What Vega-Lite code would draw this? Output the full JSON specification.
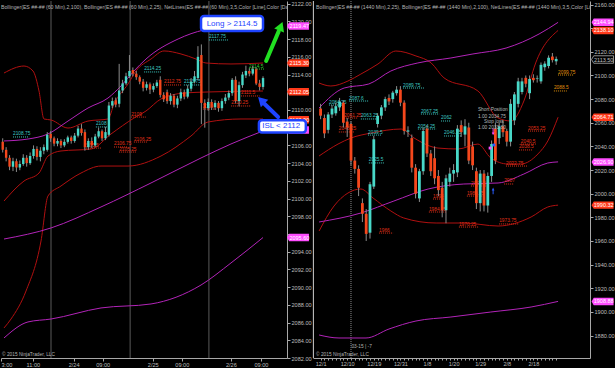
{
"$schema":"https://vega.github.io/schema/vega-lite/v6.json",
"background":"#000000",
"padding":0,
"autosize":{"type":"pad"},
"spacing":26,
"bounds":"flush",
"resolve":{"scale":{"x":"independent","y":"independent"}},
"config":{"view":{"stroke":null},"scale":{"continuousPadding":0},
"axis":{"labelFont":"Liberation Sans","labelFontSize":5.6,"labelColor":"#bdbdbd","domainColor":"#a8a8a8","tickColor":"#a8a8a8","grid":false,"tickSize":3,"labelPadding":1,"labelOverlap":false,"tickCount":200},
"text":{"font":"Liberation Sans"}},
"datasets":{
"lc":[
{"i":0,"o":2106.4,"h":2106.8,"l":2105.2,"c":2105.5},{"i":1,"o":2105.5,"h":2105.8,"l":2104.2,"c":2104.6},{"i":2,"o":2104.6,"h":2104.9,"l":2103.2,"c":2103.6},{"i":3,"o":2103.6,"h":2104.6,"l":2103.1,"c":2104.2},{"i":4,"o":2104.2,"h":2104.5,"l":2103.0,"c":2103.5},{"i":5,"o":2103.5,"h":2104.3,"l":2103.2,"c":2103.9},{"i":6,"o":2103.9,"h":2105.0,"l":2103.7,"c":2104.6},{"i":7,"o":2104.6,"h":2104.9,"l":2103.6,"c":2104.0},{"i":8,"o":2104.0,"h":2105.2,"l":2103.8,"c":2104.8},{"i":9,"o":2104.8,"h":2106.0,"l":2104.5,"c":2105.6},
{"i":10,"o":2105.6,"h":2105.9,"l":2104.3,"c":2104.7},{"i":11,"o":2104.7,"h":2105.8,"l":2104.2,"c":2105.4},{"i":12,"o":2105.4,"h":2106.1,"l":2105.0,"c":2105.8},{"i":13,"o":2105.5,"h":2107.5,"l":2105.3,"c":2107.2},{"i":14,"o":2107.3,"h":2107.6,"l":2106.4,"c":2106.8},{"i":15,"o":2106.8,"h":2107.0,"l":2105.9,"c":2106.2},{"i":16,"o":2106.2,"h":2106.8,"l":2105.9,"c":2106.5},{"i":17,"o":2106.5,"h":2106.7,"l":2105.7,"c":2106.0},{"i":18,"o":2106.0,"h":2106.7,"l":2105.8,"c":2106.4},{"i":19,"o":2106.4,"h":2107.1,"l":2106.2,"c":2106.9},
{"i":20,"o":2106.9,"h":2107.1,"l":2106.2,"c":2106.5},{"i":21,"o":2106.5,"h":2107.4,"l":2106.3,"c":2107.1},{"i":22,"o":2107.1,"h":2108.2,"l":2106.9,"c":2107.9},{"i":23,"o":2107.9,"h":2108.4,"l":2107.1,"c":2107.4},{"i":24,"o":2107.5,"h":2107.8,"l":2105.4,"c":2105.8},{"i":25,"o":2105.8,"h":2106.8,"l":2105.5,"c":2106.5},{"i":26,"o":2106.5,"h":2106.9,"l":2105.7,"c":2106.0},{"i":27,"o":2106.0,"h":2107.3,"l":2105.8,"c":2107.0},{"i":28,"o":2107.0,"h":2108.0,"l":2106.8,"c":2107.6},{"i":29,"o":2107.6,"h":2107.8,"l":2106.5,"c":2106.8},
{"i":30,"o":2106.8,"h":2108.1,"l":2106.6,"c":2107.5},{"i":31,"o":2107.2,"h":2110.9,"l":2107.0,"c":2110.5},{"i":32,"o":2110.5,"h":2111.4,"l":2110.2,"c":2111.0},{"i":33,"o":2111.1,"h":2111.4,"l":2110.3,"c":2110.6},{"i":34,"o":2110.7,"h":2115.2,"l":2110.3,"c":2112.2},{"i":35,"o":2112.2,"h":2113.4,"l":2111.9,"c":2113.0},{"i":36,"o":2113.0,"h":2114.2,"l":2112.8,"c":2113.8},{"i":37,"o":2113.8,"h":2116.2,"l":2113.6,"c":2114.4},{"i":38,"o":2114.5,"h":2114.8,"l":2113.8,"c":2114.1},{"i":39,"o":2114.1,"h":2114.4,"l":2113.4,"c":2113.7},
{"i":40,"o":2113.7,"h":2113.9,"l":2112.9,"c":2113.2},{"i":41,"o":2113.2,"h":2113.5,"l":2112.1,"c":2112.5},{"i":42,"o":2112.5,"h":2113.2,"l":2112.2,"c":2112.9},{"i":43,"o":2112.9,"h":2113.1,"l":2111.8,"c":2112.3},{"i":44,"o":2112.3,"h":2113.0,"l":2112.0,"c":2112.7},{"i":45,"o":2112.7,"h":2113.4,"l":2112.5,"c":2113.1},{"i":46,"o":2113.4,"h":2113.8,"l":2111.4,"c":2111.7},{"i":47,"o":2111.7,"h":2112.0,"l":2110.9,"c":2111.2},{"i":48,"o":2112.0,"h":2112.3,"l":2110.7,"c":2111.0},{"i":49,"o":2111.0,"h":2111.9,"l":2110.6,"c":2111.6},
{"i":50,"o":2111.6,"h":2111.8,"l":2110.3,"c":2110.6},{"i":51,"o":2110.6,"h":2111.6,"l":2110.2,"c":2111.3},{"i":52,"o":2111.3,"h":2112.4,"l":2111.0,"c":2112.0},{"i":53,"o":2112.0,"h":2112.3,"l":2111.2,"c":2111.5},{"i":54,"o":2111.5,"h":2112.8,"l":2111.3,"c":2112.4},{"i":55,"o":2112.4,"h":2113.6,"l":2112.1,"c":2113.2},{"i":56,"o":2113.2,"h":2114.4,"l":2113.0,"c":2113.8},{"i":57,"o":2113.6,"h":2117.2,"l":2113.4,"c":2116.0},{"i":58,"o":2116.2,"h":2117.4,"l":2108.4,"c":2110.8},{"i":59,"o":2110.8,"h":2111.2,"l":2108.0,"c":2110.2},
{"i":60,"o":2110.2,"h":2111.3,"l":2109.9,"c":2110.9},{"i":61,"o":2110.9,"h":2111.2,"l":2110.0,"c":2110.3},{"i":62,"o":2110.3,"h":2111.1,"l":2110.0,"c":2110.8},{"i":63,"o":2110.8,"h":2111.0,"l":2109.8,"c":2110.2},{"i":64,"o":2110.2,"h":2111.3,"l":2109.9,"c":2111.0},{"i":65,"o":2111.0,"h":2111.8,"l":2110.7,"c":2111.4},{"i":66,"o":2111.4,"h":2112.2,"l":2111.1,"c":2111.9},{"i":67,"o":2111.9,"h":2113.6,"l":2111.6,"c":2113.4},{"i":68,"o":2113.4,"h":2113.8,"l":2110.8,"c":2111.0},{"i":69,"o":2111.0,"h":2113.2,"l":2110.4,"c":2112.8},
{"i":70,"o":2112.8,"h":2114.3,"l":2112.5,"c":2114.0},{"i":71,"o":2113.9,"h":2115.0,"l":2113.6,"c":2114.4},{"i":72,"o":2114.4,"h":2114.7,"l":2113.8,"c":2114.1},{"i":73,"o":2114.1,"h":2115.0,"l":2113.9,"c":2114.6},{"i":74,"o":2114.6,"h":2114.8,"l":2112.8,"c":2113.0},{"i":75,"o":2113.0,"h":2113.4,"l":2112.2,"c":2112.6},{"i":76,"o":2112.6,"h":2113.8,"l":2112.3,"c":2113.6}
],
"ll":[
{"s":"R1","i":0.38,"p":2114.17},{"s":"R1","i":6.22,"p":2114.96},{"s":"R1","i":8.84,"p":2114.4},{"s":"R1","i":10.6,"p":2112.14},{"s":"R1","i":12.05,"p":2108.98},{"s":"R1","i":14.1,"p":2108.87},{"s":"R1","i":19.06,"p":2107.96},{"s":"R1","i":24.9,"p":2108.75},{"s":"R1","i":30.74,"p":2108.98},{"s":"R1","i":32.5,"p":2110.67},{"s":"R1","i":36.58,"p":2112.93},{"s":"R1","i":38.9,"p":2114.4},{"s":"R1","i":43.3,"p":2115.75},{"s":"R1","i":47.1,"p":2116.66},{"s":"R1","i":52.05,"p":2116.32},{"s":"R1","i":56.43,"p":2115.75},{"s":"R1","i":59.35,"p":2115.3},{"s":"R1","i":66.65,"p":2115.19},{"s":"R1","i":76,"p":2115.3},
{"s":"R2","i":0.38,"p":2099.72},{"s":"R2","i":6.22,"p":2101.98},{"s":"R2","i":10.6,"p":2102.88},{"s":"R2","i":13.22,"p":2104.8},{"s":"R2","i":17.02,"p":2105.37},{"s":"R2","i":25.78,"p":2105.59},{"s":"R2","i":31.62,"p":2107.29},{"s":"R2","i":38.33,"p":2109.09},{"s":"R2","i":41.83,"p":2109.88},{"s":"R2","i":46.2,"p":2111.24},{"s":"R2","i":52.93,"p":2111.91},{"s":"R2","i":59.94,"p":2112.03},{"s":"R2","i":76,"p":2112.14},
{"s":"R3","i":0.38,"p":2085.39},{"s":"R3","i":2.42,"p":2086.4},{"s":"R3","i":6.8,"p":2089.56},{"s":"R3","i":11.18,"p":2095.21},{"s":"R3","i":13.22,"p":2100.29},{"s":"R3","i":17.02,"p":2101.42},{"s":"R3","i":22.86,"p":2102.88},{"s":"R3","i":28.7,"p":2103.67},{"s":"R3","i":36.58,"p":2103.67},{"s":"R3","i":46.2,"p":2104.8},{"s":"R3","i":54.97,"p":2107.06},{"s":"R3","i":59.94,"p":2108.64},{"s":"R3","i":69.57,"p":2108.98},{"s":"R3","i":76,"p":2108.98},
{"s":"P1","i":0.38,"p":2106.5},{"s":"P1","i":7.38,"p":2106.72},{"s":"P1","i":13.22,"p":2107.29},{"s":"P1","i":19.06,"p":2108.75},{"s":"P1","i":24.9,"p":2110.22},{"s":"P1","i":30.74,"p":2111.35},{"s":"P1","i":34.54,"p":2112.71},{"s":"P1","i":38.33,"p":2114.4},{"s":"P1","i":41.83,"p":2115.75},{"s":"P1","i":51.2,"p":2118.01},{"s":"P1","i":58.77,"p":2119.03},{"s":"P1","i":66.65,"p":2119.37},{"s":"P1","i":76,"p":2119.47},
{"s":"P2","i":0.38,"p":2095.43},{"s":"P2","i":14.1,"p":2096.68},{"s":"P2","i":28.7,"p":2099.05},{"s":"P2","i":43.3,"p":2101.76},{"s":"P2","i":57.9,"p":2104.58},{"s":"P2","i":66.65,"p":2106.16},{"s":"P2","i":76,"p":2107.63},
{"s":"P3","i":0.38,"p":2084.26},{"s":"P3","i":7.38,"p":2086.07},{"s":"P3","i":14.1,"p":2086.4},{"s":"P3","i":28.7,"p":2087.65},{"s":"P3","i":43.3,"p":2088.1},{"s":"P3","i":57.9,"p":2090.24},{"s":"P3","i":66.65,"p":2092.73},{"s":"P3","i":76,"p":2095.6}
],
"ln":[
{"t":"2108.75","a":3.0,"b":7.7,"p":2106.95,"k":"u"},{"t":"2108","a":27.2,"b":30.7,"p":2108.08,"k":"u"},{"t":"2114.25","a":41.3,"b":46.2,"p":2114.29,"k":"u"},{"t":"2117.75","a":60.2,"b":65.8,"p":2117.9,"k":"u"},{"t":"2113.75","a":52.9,"b":57.9,"p":2112.82,"k":"u"},{"t":"2112.75","a":47.1,"b":52.1,"p":2112.82,"k":"d"},{"t":"2114.5","a":71.9,"b":76.3,"p":2114.62,"k":"g"},{"t":"2110.25","a":66.7,"b":72.5,"p":2110.45,"k":"d"},{"t":"2111.5","a":69.6,"b":75,"p":2111.58,"k":"d"},{"t":"2110","a":58.5,"b":62.3,"p":2110.1,"k":"d"},{"t":"2109","a":37.5,"b":41.8,"p":2109.2,"k":"d"},{"t":"2106.25","a":38.3,"b":42.4,"p":2106.38,"k":"d"},{"t":"2106.75","a":32.5,"b":36.6,"p":2105.82,"k":"d"},{"t":"2105.25","a":34,"b":38.9,"p":2105.25,"k":"d"},{"t":"2105.5","a":23.7,"b":28.7,"p":2105.7,"k":"d"}
],
"lt":[{"p":2119.47,"k":"m","v":1},{"p":2115.30,"k":"r","v":1},{"p":2112.05,"k":"r","v":1},{"p":2108.90,"k":"r","v":1},{"p":2107.74,"k":"m","v":0},{"p":2095.60,"k":"m","v":1}],
"ls":[{"s":14.1},{"s":37.2},{"s":60.2}],
"rc":[
{"i":0,"o":2072,"h":2076,"l":2063,"c":2066},{"i":1,"o":2064,"h":2067,"l":2047,"c":2051},{"i":2,"o":2054,"h":2069,"l":2051,"c":2067},{"i":3,"o":2067,"h":2075,"l":2064,"c":2072},{"i":4,"o":2068,"h":2077,"l":2066,"c":2074},{"i":5,"o":2073,"h":2081,"l":2070,"c":2078},{"i":6,"o":2077,"h":2079,"l":2056,"c":2060},{"i":7,"o":2061,"h":2064,"l":2048,"c":2056},{"i":8,"o":2059,"h":2061,"l":2024,"c":2028},{"i":9,"o":2028,"h":2031,"l":2017,"c":2021},
{"i":10,"o":2021,"h":2024,"l":1998,"c":2005},{"i":11,"o":1992,"h":1996,"l":1976,"c":1983},{"i":12,"o":1983,"h":1987,"l":1960,"c":1966},{"i":13,"o":1967,"h":2010,"l":1962,"c":2008},{"i":14,"o":2006,"h":2049,"l":2004,"c":2046},{"i":15,"o":2059,"h":2068,"l":2056,"c":2066},{"i":16,"o":2066,"h":2075,"l":2063,"c":2073},{"i":17,"o":2073,"h":2082,"l":2070,"c":2080},{"i":18,"o":2081,"h":2084,"l":2075,"c":2078},{"i":19,"o":2080,"h":2087,"l":2077,"c":2085.5},
{"i":20,"o":2085,"h":2091,"l":2083,"c":2088},{"i":21,"o":2088,"h":2091,"l":2074,"c":2077},{"i":22,"o":2077,"h":2079,"l":2050,"c":2053},{"i":23,"o":2052.5,"h":2057,"l":2048,"c":2053.5},{"i":24,"o":2047,"h":2050,"l":2018,"c":2022},{"i":25,"o":2022,"h":2025,"l":1996,"c":2000},{"i":26,"o":1996,"h":2021,"l":1993,"c":2019},{"i":27,"o":2019,"h":2056,"l":2016,"c":2053},{"i":28,"o":2055,"h":2058,"l":2031,"c":2034},{"i":29,"o":2034,"h":2037,"l":2015,"c":2019},
{"i":30,"o":2030,"h":2040,"l":2008,"c":2013},{"i":31,"o":2015,"h":2020,"l":1998,"c":2003},{"i":32,"o":2005,"h":2010,"l":1980,"c":1986},{"i":33,"o":1986,"h":2016,"l":1975,"c":2013},{"i":34,"o":2010,"h":2022,"l":2006,"c":2017},{"i":35,"o":2017,"h":2025,"l":2010,"c":2020},{"i":36,"o":2018,"h":2058,"l":2014,"c":2055},{"i":37,"o":2058,"h":2062,"l":2048,"c":2052},{"i":38,"o":2050,"h":2063,"l":2040,"c":2057},{"i":39,"o":2056,"h":2060,"l":2025,"c":2028},
{"i":40,"o":2040,"h":2044,"l":2020,"c":2024},{"i":41,"o":2019,"h":2022,"l":1987,"c":1992},{"i":42,"o":1992,"h":2020,"l":1985,"c":2017},{"i":43,"o":2017,"h":2020,"l":1985,"c":1990},{"i":44,"o":1990,"h":2018,"l":1984,"c":2015},{"i":45,"o":2015,"h":2045,"l":2010,"c":2042},{"i":46,"o":2055,"h":2060,"l":2025,"c":2028},{"i":47,"o":2047,"h":2060,"l":2042,"c":2057},{"i":48,"o":2057,"h":2062,"l":2048,"c":2052},{"i":49,"o":2053,"h":2055,"l":2040,"c":2044},
{"i":50,"o":2044,"h":2080,"l":2040,"c":2076},{"i":51,"o":2062,"h":2086,"l":2058,"c":2084},{"i":52,"o":2076,"h":2098,"l":2073,"c":2095},{"i":53,"o":2086,"h":2098,"l":2084,"c":2095},{"i":54,"o":2098,"h":2100,"l":2090,"c":2093},{"i":55,"o":2085,"h":2100,"l":2080,"c":2097},{"i":56,"o":2098,"h":2101,"l":2094,"c":2096},{"i":57,"o":2097,"h":2100,"l":2094,"c":2097.5},{"i":58,"o":2095,"h":2111,"l":2093,"c":2109},{"i":59,"o":2107,"h":2112,"l":2104,"c":2110},
{"i":60,"o":2108,"h":2117,"l":2106,"c":2115},{"i":61,"o":2116,"h":2119,"l":2111,"c":2113},{"i":62,"o":2112,"h":2116,"l":2109,"c":2114}
],
"rl":[
{"s":"R1","i":-0.4,"p":2093.6},{"s":"R1","i":2.7,"p":2091.1},{"s":"R1","i":7.2,"p":2095.3},{"s":"R1","i":10.6,"p":2101.2},{"s":"R1","i":15.1,"p":2109.7},{"s":"R1","i":19.8,"p":2120.7},{"s":"R1","i":25.1,"p":2116.5},{"s":"R1","i":29.1,"p":2110.6},{"s":"R1","i":32.5,"p":2097.9},{"s":"R1","i":41.4,"p":2086.9},{"s":"R1","i":46.7,"p":2064.0},{"s":"R1","i":50.1,"p":2061.5},{"s":"R1","i":53.5,"p":2078.4},{"s":"R1","i":56.6,"p":2110.6},{"s":"R1","i":62.5,"p":2138.1},
{"s":"R2","i":-0.4,"p":2031.9},{"s":"R2","i":4.6,"p":2042.0},{"s":"R2","i":8,"p":2047.1},{"s":"R2","i":13.3,"p":2051.3},{"s":"R2","i":21.2,"p":2054.7},{"s":"R2","i":24.6,"p":2047.1},{"s":"R2","i":30.9,"p":2038.6},{"s":"R2","i":36.2,"p":2037.8},{"s":"R2","i":41.4,"p":2042.0},{"s":"R2","i":44.8,"p":2030.2},{"s":"R2","i":49.3,"p":2025.1},{"s":"R2","i":52.7,"p":2025.1},{"s":"R2","i":57.2,"p":2033.6},{"s":"R2","i":59.8,"p":2044.6},{"s":"R2","i":62.5,"p":2064.71},
{"s":"R3","i":-0.4,"p":1968.43},{"s":"R3","i":3.53,"p":1989.58},{"s":"R3","i":7.2,"p":2000.58},{"s":"R3","i":10.6,"p":2003.96},{"s":"R3","i":13.8,"p":1996.35},{"s":"R3","i":18.5,"p":1985.35},{"s":"R3","i":21.9,"p":1979.43},{"s":"R3","i":30.4,"p":1975.2},{"s":"R3","i":37.7,"p":1975.2},{"s":"R3","i":46.7,"p":1972.66},{"s":"R3","i":55.4,"p":1980.28},{"s":"R3","i":59.8,"p":1988.74},{"s":"R3","i":62.5,"p":1990.32},
{"s":"P1","i":-0.4,"p":2072.5},{"s":"P1","i":6.2,"p":2089.4},{"s":"P1","i":12.7,"p":2092.8},{"s":"P1","i":18.5,"p":2103.8},{"s":"P1","i":25.6,"p":2110.6},{"s":"P1","i":34.3,"p":2114.8},{"s":"P1","i":40.1,"p":2118.2},{"s":"P1","i":48.8,"p":2123.2},{"s":"P1","i":57.5,"p":2135.1},{"s":"P1","i":62.5,"p":2144.94},
{"s":"P2","i":-0.4,"p":1976.05},{"s":"P2","i":10.6,"p":1983.66},{"s":"P2","i":19.3,"p":1993.81},{"s":"P2","i":28.3,"p":2003.96},{"s":"P2","i":37.7,"p":2008.19},{"s":"P2","i":46.7,"p":2009.04},{"s":"P2","i":53.5,"p":2016.65},{"s":"P2","i":59.8,"p":2025.96},{"s":"P2","i":62.5,"p":2026.9},
{"s":"P3","i":-0.4,"p":1880.46},{"s":"P3","i":4.84,"p":1877.92},{"s":"P3","i":11.95,"p":1877.92},{"s":"P3","i":18,"p":1885.53},{"s":"P3","i":25.1,"p":1892.3},{"s":"P3","i":34.3,"p":1895.68},{"s":"P3","i":44.8,"p":1899.91},{"s":"P3","i":55.4,"p":1904.14},{"s":"P3","i":62.5,"p":1908.88}
],
"rn":[
{"t":"2084.25","a":2.2,"b":6.2,"p":2075.0,"k":"u"},{"t":"2061.25","a":6.2,"b":9.8,"p":2064.0,"k":"d"},{"t":"2087.6","a":7.5,"b":12.7,"p":2078.4,"k":"u"},{"t":"2048.25","a":4.8,"b":8.8,"p":2052.2,"k":"d"},{"t":"2063.25","a":10.6,"b":14.6,"p":2063.2,"k":"u"},{"t":"2039.5","a":12.5,"b":15.9,"p":2049.6,"k":"u"},{"t":"2025.5","a":12.7,"b":16.7,"p":2026.0,"k":"u"},{"t":"1966","a":15.4,"b":19.1,"p":1966.7,"k":"d"},{"t":"2089.75","a":21.7,"b":27.2,"p":2089.4,"k":"u"},{"t":"2067.25","a":26.4,"b":31.2,"p":2067.4,"k":"u"},{"t":"2062","a":31.7,"b":34.3,"p":2061.5,"k":"u"},{"t":"2054.25","a":25.6,"b":30.4,"p":2054.7,"k":"u"},{"t":"2046.25","a":32.5,"b":37.0,"p":2048.8,"k":"u"},{"t":"1994","a":29.6,"b":32.5,"p":1995.5,"k":"d"},{"t":"1984.25","a":28.5,"b":33.0,"p":1984.5,"k":"d"},{"t":"2007","a":48.3,"b":50.9,"p":2008.2,"k":"d"},{"t":"2022.75","a":48.8,"b":54.6,"p":2023.4,"k":"d"},{"t":"2040.5","a":52.7,"b":56.7,"p":2042.0,"k":"d"},{"t":"2038.5","a":52.2,"b":55.9,"p":2037.0,"k":"d"},{"t":"2053.25","a":54.6,"b":59.3,"p":2053.0,"k":"d"},{"t":"2099.75","a":62.5,"b":66.7,"p":2100.4,"k":"o"},{"t":"2088.5","a":61.4,"b":64.8,"p":2086.9,"k":"o"},{"t":"1970.25","a":36.4,"b":41.7,"p":1971.8,"k":"d"},{"t":"1973.75","a":47.0,"b":52.2,"p":1974.4,"k":"d"},{"t":"2005.5","a":39.6,"b":44.1,"p":2006.5,"k":"d"},{"t":"1989.75","a":38.5,"b":43.0,"p":1998.0,"k":"d"}
],
"rt":[{"p":2144.94,"k":"m"},{"p":2138.10,"k":"r"},{"p":2113.50,"k":"g"},{"p":2064.71,"k":"r"},{"p":2026.90,"k":"m"},{"p":1990.32,"k":"r"},{"p":1908.88,"k":"m"}]
},
"hconcat":[
{
"width":286,"height":357,
"layer":[
{"data":{"name":"ls"},"mark":{"type":"rule","color":"#5a5a5a","strokeWidth":1},"encoding":{"x":{"field":"s","type":"quantitative","title":null}}},
{"data":{"name":"ll"},"mark":{"type":"line","strokeWidth":1,"interpolate":"monotone"},"encoding":{"x":{"field":"i","type":"quantitative","title":null},"y":{"field":"p","type":"quantitative","title":null},"color":{"field":"s","type":"nominal","legend":null,"scale":{"domain":["R1","R2","R3","P1","P2","P3"],"range":["#b01010","#b01010","#b01010","#b224b8","#b224b8","#b224b8"]}}}},
{"data":{"name":"ln"},"mark":{"type":"rule","strokeDash":[1,1],"strokeWidth":1},"encoding":{"x":{"field":"a","type":"quantitative","title":null},"x2":{"field":"b"},"y":{"field":"p","type":"quantitative","title":null},"color":{"condition":[{"test":"datum.k=='u'","value":"#3cc8c0"},{"test":"datum.k=='g'","value":"#30d030"}],"value":"#e03018"}}},
{"data":{"name":"ln"},"mark":{"type":"text","align":"left","baseline":"bottom","fontSize":4.8,"dy":-0.5},"encoding":{"x":{"field":"a","type":"quantitative","title":null},"y":{"field":"p","type":"quantitative","title":null},"text":{"field":"t"},"color":{"condition":[{"test":"datum.k=='u'","value":"#3cc8c0"},{"test":"datum.k=='g'","value":"#30d030"}],"value":"#e03018"}}},
{"data":{"name":"lc"},"mark":{"type":"rule","color":"#8c8c8c","strokeWidth":1},"encoding":{"x":{"field":"i","type":"quantitative","title":null},"y":{"field":"l","type":"quantitative","title":null},"y2":{"field":"h"}}},
{"data":{"name":"lc"},"mark":{"type":"bar","size":2.4},"encoding":{
"x":{"field":"i","type":"quantitative","title":null,"scale":{"domain":[-0.5,83],"nice":false,"zero":false},"axis":{"values":[-0.5,8.8,20.7,29.2,43.8,52.3,66.6,75.4],"tickCount":200,"labelExpr":"datum.value<0?'3:00':datum.value<9?'11:00':datum.value<21?'2/24':datum.value<30?'09:00':datum.value<44?'2/25':datum.value<53?'09:00':datum.value<67?'2/26':'09:00'","labelOverlap":false,"labelFlush":10}},
"y":{"field":"o","type":"quantitative","title":null,"scale":{"domain":[2082,2122.3],"nice":false,"zero":false},"axis":{"orient":"right","values":[2082,2084,2086,2088,2090,2092,2094,2096,2098,2100,2102,2104,2106,2108,2110,2112,2114,2116,2118,2120,2122],"tickCount":200,"format":".2f","labelExpr":"datum.value==2096||datum.value==2108||datum.value==2112?'':datum.label","labelOverlap":false}},
"y2":{"field":"c"},
"color":{"condition":{"test":"datum.c>=datum.o","value":"#48d8c8"},"value":"#f5471c"}}},
{"data":{"values":[{}]},"mark":{"type":"text","align":"left","baseline":"middle","fontSize":5.2,"color":"#b4b4b4","clip":true},"encoding":{"x":{"datum":-0.5,"type":"quantitative","title":null},"y":{"datum":2121.66,"type":"quantitative","title":null},"text":{"value":"Bollinger(ES ##-## (60 Min),2,100), Bollinger(ES ##-## (60 Min),2,25), NetLines(ES ##-## (60 Min),3,5,Color [Line],Color [Da"}}},
{"data":{"values":[{}]},"mark":{"type":"text","align":"left","baseline":"middle","fontSize":4.8,"color":"#b4b4b4"},"encoding":{"x":{"datum":-0.2,"type":"quantitative","title":null},"y":{"datum":2082.34,"type":"quantitative","title":null},"text":{"value":"© 2015 NinjaTrader, LLC"}}},
{"data":{"name":"lt"},"mark":{"type":"point","shape":"M-1,0L-0.8,-0.34L1,-0.34L1,0.34L-0.8,0.34Z","size":484,"filled":true,"opacity":1,"strokeWidth":0.8},"encoding":{"x":{"datum":86.2,"type":"quantitative","title":null},"y":{"field":"p","type":"quantitative","title":null},"fill":{"condition":{"test":"datum.k=='m'","value":"#ff4dff"},"value":"#ff3a1a"},"stroke":{"value":"transparent"}}},
{"data":{"name":"lt"},"transform":[{"filter":"datum.v==1"}],"mark":{"type":"text","fontSize":5.5,"align":"center","baseline":"middle","color":"#ffffff"},"encoding":{"x":{"datum":86.6,"type":"quantitative","title":null},"y":{"field":"p","type":"quantitative","title":null},"text":{"field":"p","format":".2f"}}},
{"data":{"values":[{}]},"mark":{"type":"rect","fill":"#ffffff","stroke":"#1e44ff","strokeWidth":2.5,"cornerRadius":3},"encoding":{"x":{"datum":57.9,"type":"quantitative","title":null},"x2":{"datum":76.0},"y":{"datum":2120.61,"type":"quantitative","title":null},"y2":{"datum":2118.91}}},
{"data":{"values":[{}]},"mark":{"type":"text","fontSize":8,"align":"center","baseline":"middle","color":"#1e44ff"},"encoding":{"x":{"datum":66.95,"type":"quantitative","title":null},"y":{"datum":2119.76,"type":"quantitative","title":null},"text":{"value":"Long > 2114.5"}}},
{"data":{"values":[{}]},"mark":{"type":"rect","fill":"#ffffff","stroke":"#1e44ff","strokeWidth":2.5,"cornerRadius":3},"encoding":{"x":{"datum":74.8,"type":"quantitative","title":null},"x2":{"datum":88.5},"y":{"datum":2108.85,"type":"quantitative","title":null},"y2":{"datum":2107.45}}},
{"data":{"values":[{}]},"mark":{"type":"text","fontSize":8,"align":"center","baseline":"middle","color":"#1e44ff"},"encoding":{"x":{"datum":81.3,"type":"quantitative","title":null},"y":{"datum":2108.15,"type":"quantitative","title":null},"text":{"value":"ISL < 2112"}}},
{"data":{"values":[{}]},"mark":{"type":"rule","color":"#22e022","strokeWidth":4,"strokeCap":"round"},"encoding":{"x":{"datum":76.9,"type":"quantitative","title":null},"x2":{"datum":80.6},"y":{"datum":2115.53,"type":"quantitative","title":null},"y2":{"datum":2118.9}}},
{"data":{"values":[{}]},"mark":{"type":"point","shape":"triangle-up","size":110,"filled":true,"opacity":1,"color":"#22e022","angle":22},"encoding":{"x":{"datum":81.2,"type":"quantitative","title":null},"y":{"datum":2119.45,"type":"quantitative","title":null}}},
{"data":{"values":[{}]},"mark":{"type":"rule","color":"#1e44ff","strokeWidth":4,"strokeCap":"round"},"encoding":{"x":{"datum":80.4,"type":"quantitative","title":null},"x2":{"datum":76.4},"y":{"datum":2109.2,"type":"quantitative","title":null},"y2":{"datum":2110.7}}},
{"data":{"values":[{}]},"mark":{"type":"point","shape":"triangle-up","size":110,"filled":true,"opacity":1,"color":"#1e44ff","angle":-45},"encoding":{"x":{"datum":75.5,"type":"quantitative","title":null},"y":{"datum":2111.1,"type":"quantitative","title":null}}}
]
},
{
"width":277,"height":357,
"layer":[
{"data":{"values":[{}]},"mark":{"type":"rule","color":"#d0d0d0","strokeWidth":1},"encoding":{"x":{"datum":-1.9,"type":"quantitative","title":null}}},
{"data":{"values":[{}]},"mark":{"type":"rule","color":"#8a8a8a","strokeWidth":1,"strokeDash":[1,1]},"encoding":{"x":{"datum":8.0,"type":"quantitative","title":null}}},
{"data":{"name":"rl"},"mark":{"type":"line","strokeWidth":1,"interpolate":"monotone"},"encoding":{"x":{"field":"i","type":"quantitative","title":null},"y":{"field":"p","type":"quantitative","title":null},"color":{"field":"s","type":"nominal","legend":null,"scale":{"domain":["R1","R2","R3","P1","P2","P3"],"range":["#b01010","#b01010","#b01010","#b224b8","#b224b8","#b224b8"]}}}},
{"data":{"name":"rn"},"mark":{"type":"rule","strokeDash":[1,1],"strokeWidth":1},"encoding":{"x":{"field":"a","type":"quantitative","title":null},"x2":{"field":"b"},"y":{"field":"p","type":"quantitative","title":null},"color":{"condition":[{"test":"datum.k=='u'","value":"#3cc8c0"},{"test":"datum.k=='o'","value":"#e0900c"}],"value":"#e03018"}}},
{"data":{"name":"rn"},"mark":{"type":"text","align":"left","baseline":"bottom","fontSize":4.8,"dy":-0.5},"encoding":{"x":{"field":"a","type":"quantitative","title":null},"y":{"field":"p","type":"quantitative","title":null},"text":{"field":"t"},"color":{"condition":[{"test":"datum.k=='u'","value":"#3cc8c0"},{"test":"datum.k=='o'","value":"#e0900c"}],"value":"#e03018"}}},
{"data":{"name":"rc"},"mark":{"type":"rule","color":"#8c8c8c","strokeWidth":1},"encoding":{"x":{"field":"i","type":"quantitative","title":null},"y":{"field":"l","type":"quantitative","title":null},"y2":{"field":"h"}}},
{"data":{"name":"rc"},"mark":{"type":"bar","size":2.8},"encoding":{
"x":{"field":"i","type":"quantitative","title":null,"scale":{"domain":[-2,70.9],"nice":false,"zero":false},"axis":{"values":[0,1,2,3,4,5,6,7,8,9,10,11,12,13,14,15,16,17,18,19,20,21,22,23,24,25,26,27,28,29,30,31,32,33,34,35,36,37,38,39,40,41,42,43,44,45,46,47,48,49,50,51,52,53,54,55,56,57,58,59,60,61,62],"tickCount":200,"tickSize":2,"labelExpr":"datum.value==0?'12/1':datum.value==7?'12/10':datum.value==14?'12/19':datum.value==21?'12/31':datum.value==28?'1/8':datum.value==35?'1/20':datum.value==42?'1/29':datum.value==49?'2/8':datum.value==56?'2/18':''","labelOverlap":false,"labelFlush":false}},
"y":{"field":"o","type":"quantitative","title":null,"scale":{"domain":[1861,2163],"nice":false,"zero":false},"axis":{"orient":"right","values":[1880,1900,1920,1940,1960,1980,2000,2020,2040,2060,2080,2100,2120,2140,2160],"tickCount":200,"format":".2f","labelExpr":"datum.value==2140?'':datum.label","labelOverlap":false}},
"y2":{"field":"c"},
"color":{"condition":{"test":"datum.c>=datum.o","value":"#48d8c8"},"value":"#f5471c"}}},
{"data":{"values":[{}]},"mark":{"type":"text","align":"left","baseline":"middle","fontSize":5.2,"color":"#b4b4b4","clip":true},"encoding":{"x":{"datum":-1.2,"type":"quantitative","title":null},"y":{"datum":2158.2,"type":"quantitative","title":null},"text":{"value":"Bollinger(ES ##-## (1440 Min),2,25), Bollinger(ES ##-## (1440 Min),2,100), NetLines(ES ##-## (1440 Min),3,5,Color [Lin"}}},
{"data":{"values":[{}]},"mark":{"type":"text","align":"left","baseline":"middle","fontSize":4.8,"color":"#b4b4b4"},"encoding":{"x":{"datum":-1.2,"type":"quantitative","title":null},"y":{"datum":1863.5,"type":"quantitative","title":null},"text":{"value":"© 2015 NinjaTrader, LLC"}}},
{"data":{"values":[{}]},"mark":{"type":"text","align":"left","baseline":"middle","fontSize":4.8,"color":"#b4b4b4"},"encoding":{"x":{"datum":8.1,"type":"quantitative","title":null},"y":{"datum":1870.3,"type":"quantitative","title":null},"text":{"value":"03-15 | -7"}}},
{"data":{"values":[{"t":"Short Position","x":41.4,"p":2070.8},{"t":"1.00  2034.75","x":41.4,"p":2064.9},{"t":"Stop loss","x":43.0,"p":2060.6},{"t":"1.00  2033.80","x":41.4,"p":2055.6}]},"mark":{"type":"text","align":"left","baseline":"middle","fontSize":4.8,"color":"#b0b8b8"},"encoding":{"x":{"field":"x","type":"quantitative","title":null},"y":{"field":"p","type":"quantitative","title":null},"text":{"field":"t"}}},
{"data":{"values":[{}]},"mark":{"type":"point","shape":"arrow","size":45,"filled":true,"opacity":1,"color":"#ff4dff","angle":180},"encoding":{"x":{"datum":45.4,"type":"quantitative","title":null},"y":{"datum":2052.2,"type":"quantitative","title":null}}},
{"data":{"values":[{}]},"mark":{"type":"point","shape":"arrow","size":45,"filled":true,"opacity":1,"color":"#2a5cff"},"encoding":{"x":{"datum":45.4,"type":"quantitative","title":null},"y":{"datum":2002.3,"type":"quantitative","title":null}}},
{"data":{"values":[{}]},"mark":{"type":"point","shape":"square","size":8,"filled":true,"opacity":1,"color":"#ff4dff"},"encoding":{"x":{"datum":44.6,"type":"quantitative","title":null},"y":{"datum":2038.6,"type":"quantitative","title":null}}},
{"data":{"values":[{}]},"mark":{"type":"point","shape":"square","size":8,"filled":true,"opacity":1,"color":"#2a5cff"},"encoding":{"x":{"datum":45.6,"type":"quantitative","title":null},"y":{"datum":2041.2,"type":"quantitative","title":null}}},
{"data":{"name":"rt"},"mark":{"type":"point","shape":"M-1,0L-0.8,-0.34L1,-0.34L1,0.34L-0.8,0.34Z","size":484,"filled":true,"opacity":1,"strokeWidth":0.8},"encoding":{"x":{"datum":74.2,"type":"quantitative","title":null},"y":{"field":"p","type":"quantitative","title":null},"fill":{"condition":[{"test":"datum.k=='m'","value":"#ff4dff"},{"test":"datum.k=='r'","value":"#ff3a1a"}],"value":"#000000"},"stroke":{"condition":{"test":"datum.k=='g'","value":"#b0b0b0"},"value":"transparent"}}},
{"data":{"name":"rt"},"mark":{"type":"text","fontSize":5.5,"align":"center","baseline":"middle"},"encoding":{"x":{"datum":74.5,"type":"quantitative","title":null},"y":{"field":"p","type":"quantitative","title":null},"text":{"field":"p","format":".2f"},"color":{"condition":{"test":"datum.k=='g'","value":"#c0c0c0"},"value":"#ffffff"}}}
]
}
]
}
